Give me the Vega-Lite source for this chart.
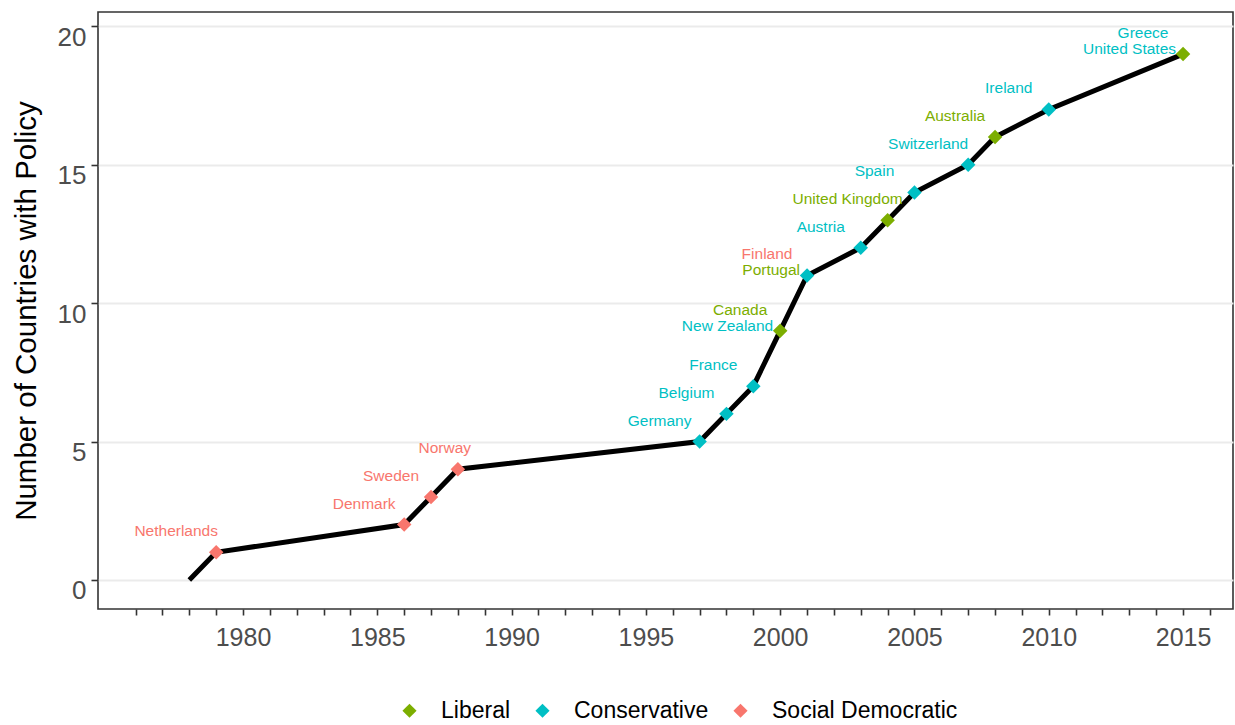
{
  "$schema": "https://vega.github.io/schema/vega-lite/v6.json",
  "width": 1135,
  "height": 597,
  "autosize": {"type": "none"},
  "padding": {"left": 98, "top": 12, "right": 2, "bottom": 116},
  "background": "white",
  "config": {
    "view": {"stroke": "#333333", "strokeWidth": 1.6},
    "font": "Liberation Sans"
  },
  "datasets": {
    "series": [
      {"year": 1978, "count": 0, "type": null},
      {"year": 1979, "count": 1, "type": "Social Democratic"},
      {"year": 1986, "count": 2, "type": "Social Democratic"},
      {"year": 1987, "count": 3, "type": "Social Democratic"},
      {"year": 1988, "count": 4, "type": "Social Democratic"},
      {"year": 1997, "count": 5, "type": "Conservative"},
      {"year": 1998, "count": 6, "type": "Conservative"},
      {"year": 1999, "count": 7, "type": "Conservative"},
      {"year": 2000, "count": 9, "type": "Liberal"},
      {"year": 2001, "count": 11, "type": "Conservative"},
      {"year": 2003, "count": 12, "type": "Conservative"},
      {"year": 2004, "count": 13, "type": "Liberal"},
      {"year": 2005, "count": 14, "type": "Conservative"},
      {"year": 2007, "count": 15, "type": "Conservative"},
      {"year": 2008, "count": 16, "type": "Liberal"},
      {"year": 2010, "count": 17, "type": "Conservative"},
      {"year": 2015, "count": 19, "type": "Liberal"}
    ],
    "labels": [
      {"country": "Netherlands", "year": 1979, "count": 1, "type": "Social Democratic", "slot": 1},
      {"country": "Denmark", "year": 1986, "count": 2, "type": "Social Democratic", "slot": 1},
      {"country": "Sweden", "year": 1987, "count": 3, "type": "Social Democratic", "slot": 1},
      {"country": "Norway", "year": 1989, "count": 4, "type": "Social Democratic", "slot": 1},
      {"country": "Germany", "year": 1997, "count": 5, "type": "Conservative", "slot": 1},
      {"country": "Belgium", "year": 1998, "count": 6, "type": "Conservative", "slot": 1},
      {"country": "France", "year": 1999, "count": 7, "type": "Conservative", "slot": 1},
      {"country": "Canada", "year": 2000, "count": 9, "type": "Liberal", "slot": 1},
      {"country": "New Zealand", "year": 2000, "count": 9, "type": "Conservative", "slot": 2},
      {"country": "Finland", "year": 2001, "count": 11, "type": "Social Democratic", "slot": 1},
      {"country": "Portugal", "year": 2001, "count": 11, "type": "Liberal", "slot": 2},
      {"country": "Austria", "year": 2003, "count": 12, "type": "Conservative", "slot": 1},
      {"country": "United Kingdom", "year": 2004, "count": 13, "type": "Liberal", "slot": 1},
      {"country": "Spain", "year": 2005, "count": 14, "type": "Conservative", "slot": 1},
      {"country": "Switzerland", "year": 2007, "count": 15, "type": "Conservative", "slot": 1},
      {"country": "Australia", "year": 2008, "count": 16, "type": "Liberal", "slot": 1},
      {"country": "Ireland", "year": 2010, "count": 17, "type": "Conservative", "slot": 1},
      {"country": "Greece", "year": 2015, "count": 19, "type": "Conservative", "slot": 1},
      {"country": "United States", "year": 2015, "count": 19, "type": "Conservative", "slot": 2}
    ]
  },
  "encoding": {
    "x": {
      "field": "year",
      "type": "quantitative",
      "scale": {"domain": [1974.6, 2016.86], "nice": false, "zero": false},
      "axis": {
        "title": null,
        "values": [1976,1977,1978,1979,1980,1981,1982,1983,1984,1985,1986,1987,1988,1989,1990,1991,1992,1993,1994,1995,1996,1997,1998,1999,2000,2001,2002,2003,2004,2005,2006,2007,2008,2009,2010,2011,2012,2013,2014,2015,2016],
        "format": "d",
        "labelExpr": "datum.value % 5 == 0 ? datum.label : ''",
        "grid": false,
        "domain": false,
        "tickSize": 6,
        "tickWidth": 1.6,
        "tickColor": "#333333",
        "labelFontSize": 25,
        "labelColor": "#4D4D4D",
        "labelPadding": 10,
        "labelFlush": false,
        "labelOverlap": false
      }
    },
    "y": {
      "field": "count",
      "type": "quantitative",
      "scale": {"domain": [-1.05, 20.52], "nice": false, "zero": false},
      "axis": {
        "title": "Number of Countries with Policy",
        "values": [0, 5, 10, 15, 20],
        "grid": true,
        "gridColor": "#EBEBEB",
        "gridWidth": 2,
        "domain": false,
        "tickSize": 7,
        "tickWidth": 1.6,
        "tickColor": "#333333",
        "labelFontSize": 26,
        "labelColor": "#4D4D4D",
        "labelPadding": 5,
        "labelOffset": 11,
        "labelFlush": false,
        "titleFontSize": 29.5,
        "titleFontWeight": "normal",
        "titleColor": "black",
        "titlePadding": 16
      }
    }
  },
  "layer": [
    {
      "data": {"name": "series"},
      "mark": {"type": "line", "color": "black", "strokeWidth": 5}
    },
    {
      "data": {"name": "series"},
      "transform": [{"filter": "datum.type != null"}],
      "mark": {"type": "point", "shape": "diamond", "filled": true, "size": 210, "opacity": 1},
      "encoding": {
        "color": {
          "field": "type",
          "type": "nominal",
          "scale": {"domain": ["Liberal", "Conservative", "Social Democratic"], "range": ["#7CAE00", "#00BFC4", "#F8766D"]},
          "legend": {
            "orient": "none",
            "legendX": 300,
            "legendY": 687,
            "direction": "horizontal",
            "title": null,
            "symbolType": "diamond",
            "symbolSize": 200,
            "symbolStrokeWidth": 0,
            "labelFontSize": 23,
            "labelColor": "black",
            "labelLimit": 400,
            "labelOffset": 20,
            "columnPadding": 20
          }
        }
      }
    },
    {
      "data": {"name": "labels"},
      "transform": [{"filter": "datum.slot == 1"}],
      "mark": {"type": "text", "fontSize": 15.5, "align": "center", "baseline": "middle", "dx": -40, "dy": -21},
      "encoding": {
        "text": {"field": "country"},
        "color": {"field": "type", "type": "nominal", "legend": null}
      }
    },
    {
      "data": {"name": "labels"},
      "transform": [{"filter": "datum.slot == 2"}],
      "mark": {"type": "text", "fontSize": 15.5, "align": "right", "baseline": "middle", "dx": -7, "dy": -5},
      "encoding": {
        "text": {"field": "country"},
        "color": {"field": "type", "type": "nominal", "legend": null}
      }
    }
  ]
}
